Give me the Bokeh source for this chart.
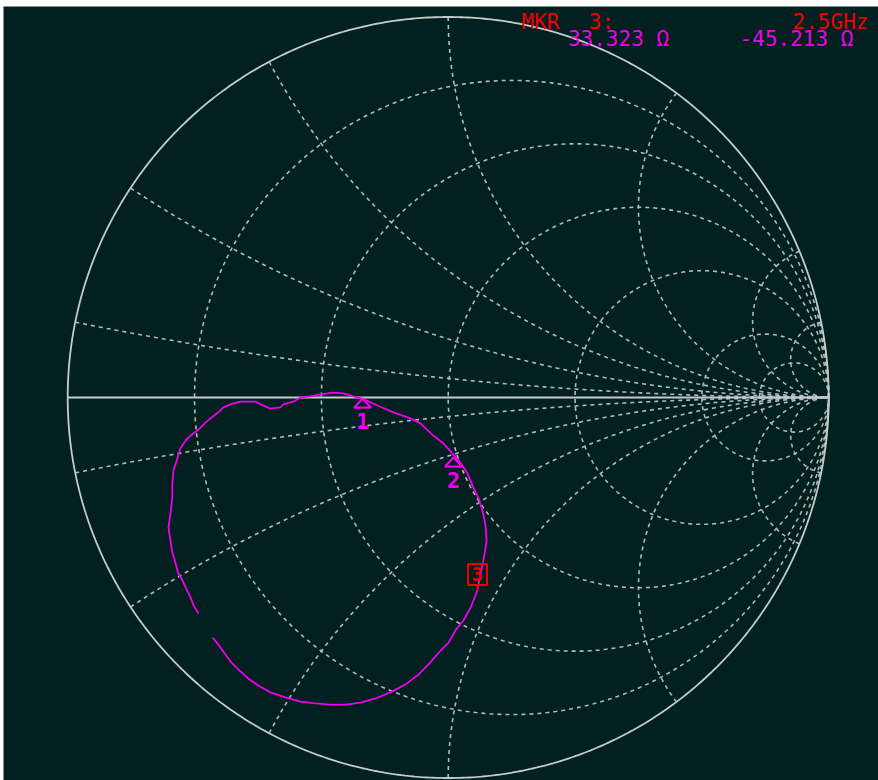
import numpy as np
from bokeh.plotting import figure
from bokeh.models import Range1d
from bokeh.embed import file_html
from bokeh.resources import INLINE
from bokeh.core.properties import value

# ---------------- data ----------------
R_CIRCLES = [0.2, 0.5, 1.0, 2.0, 5.0, 10.0]          # constant-resistance circles
X_ARCS = [0.1, 0.3, 0.6, 1.0, 2.0, 5.0, 10.0]        # constant-reactance arcs (+/-)

# measured reflection coefficient trace (real / imaginary part of Gamma)
TRACE_RE = [-0.656, -0.669, -0.677, -0.690, -0.698, -0.709, -0.717, -0.725, -0.730, -0.735,
            -0.730, -0.725, -0.725, -0.722, -0.711, -0.704, -0.690, -0.677, -0.659, -0.638,
            -0.625, -0.604, -0.591, -0.567, -0.546, -0.506, -0.493, -0.475, -0.467, -0.441,
            -0.433, -0.407, -0.388, -0.362, -0.336, -0.304, -0.275, -0.249, -0.225, -0.186,
            -0.144, -0.099, -0.073, -0.039, -0.012, 0.011, 0.032, 0.051, 0.066, 0.080,
            0.090, 0.098, 0.101, 0.095, 0.088, 0.082, 0.077, 0.059, 0.040, 0.019,
            0.001, -0.020, -0.047, -0.078, -0.112, -0.152, -0.191, -0.230, -0.270, -0.309,
            -0.349, -0.388, -0.428, -0.467, -0.499, -0.525, -0.551, -0.572, -0.593, -0.606,
            -0.619]
TRACE_IM = [-0.568, -0.547, -0.526, -0.499, -0.481, -0.463, -0.434, -0.407, -0.376, -0.342,
            -0.305, -0.263, -0.226, -0.192, -0.158, -0.134, -0.113, -0.100, -0.087, -0.066,
            -0.055, -0.039, -0.026, -0.016, -0.011, -0.011, -0.018, -0.026, -0.029, -0.026,
            -0.018, -0.011, 0.000, 0.003, 0.008, 0.013, 0.011, 0.003, -0.003, -0.021,
            -0.039, -0.055, -0.068, -0.100, -0.121, -0.147, -0.171, -0.200, -0.237, -0.265,
            -0.297, -0.336, -0.376, -0.415, -0.449, -0.476, -0.507, -0.552, -0.586, -0.612,
            -0.644, -0.665, -0.696, -0.728, -0.754, -0.775, -0.791, -0.802, -0.807, -0.807,
            -0.804, -0.799, -0.788, -0.775, -0.757, -0.739, -0.715, -0.694, -0.665, -0.647,
            -0.631]

MARKER_IDS = ["1", "2", "3"]
MARKER_RE = [-0.225, 0.014, 0.077]
MARKER_IM = [-0.003, -0.158, -0.507]
ACTIVE_MARKER = "3"

READOUT_TITLE = "MKR"
READOUT_NUM = "3:"
READOUT_FREQ = "2.5GHz"
READOUT_R = "33.323 Ω"
READOUT_X = "-45.213 Ω"

# ---------------- style / layout ----------------
BG = "#01201f"
GRID = "#b2bbba"
EDGE = "#c4cccb"
TRACE = "#ee00ee"
RED = "#f00000"
MONO = value("DejaVu Sans Mono")

S = 380.5              # pixels per unit of |Gamma|
CX, CY = 447.7, 397.0  # chart centre in page pixels
W, H = 875, 774
LEFT, TOP = 3, 6


def px(xp):
    return (xp - CX) / S


def py(yp):
    return (CY - yp) / S


p = figure(width=W, height=H, output_backend="svg", toolbar_location=None,
           x_range=Range1d(px(LEFT), px(LEFT + W)), y_range=Range1d(py(TOP + H), py(TOP)),
           x_axis_type=None, y_axis_type=None, min_border=0,
           background_fill_color=BG, border_fill_color=BG, outline_line_color=None,
           margin=(TOP, 0, 0, LEFT))
p.grid.visible = False


def gamma(z):
    return (z - 1) / (z + 1)


# resistance circles
xs, ys = [], []
th = np.linspace(0, 2 * np.pi, 721)
for r in R_CIRCLES:
    c, rad = r / (1 + r), 1 / (1 + r)
    xs.append(list(c + rad * np.cos(th)))
    ys.append(list(rad * np.sin(th)))
# reactance arcs
t = np.tan(np.linspace(0, np.pi / 2 - 1e-4, 700))
for x in X_ARCS:
    for s in (1, -1):
        g = gamma(t + 1j * s * x)
        xs.append(list(g.real))
        ys.append(list(g.imag))
p.multi_line(xs, ys, line_color=GRID, line_width=1.6, line_dash="4 4")

# outer circle and real axis
p.line(list(np.cos(th)), list(np.sin(th)), line_color=EDGE, line_width=1.8)
p.line([-1, 1], [0, 0], line_color=EDGE, line_width=1.8)

# trace
p.line(TRACE_RE, TRACE_IM, line_color=TRACE, line_width=1.8)

# markers
for mid, mx, my in zip(MARKER_IDS, MARKER_RE, MARKER_IM):
    if mid == ACTIVE_MARKER:
        p.segment(mx, my, mx, my + 6 / S, line_color=RED, line_width=2)
        p.rect(mx, my + 16 / S, width=19 / S, height=21 / S, fill_alpha=0,
               line_color=RED, line_width=2)
        p.text([mx], [my + 16 / S], text=[mid], text_color=RED, text_font=MONO,
               text_font_size="19px", text_font_style="bold",
               text_align="center", text_baseline="middle")
    else:
        p.patch([mx - 8.5 / S, mx, mx + 8.5 / S, mx - 8.5 / S],
                [my - 9 / S, my, my - 9 / S, my - 9 / S],
                fill_alpha=0, line_color=TRACE, line_width=2.2)
        p.text([mx], [my], text=[mid], text_color=TRACE, text_font=MONO,
               text_font_size="22px", text_font_style="bold", y_offset=22,
               text_align="center", text_baseline="middle")

# readout header
hdr = dict(text_font=MONO, text_font_size="21px", text_align="center",
           text_baseline="alphabetic")
p.text([px(540)], [py(21)], text=[READOUT_TITLE], text_color=RED, **hdr)
p.text([px(601)], [py(21)], text=[READOUT_NUM], text_color=RED, **hdr)
p.text([px(830)], [py(21)], text=[READOUT_FREQ], text_color=RED, **hdr)
p.text([px(618)], [py(38)], text=[READOUT_R], text_color=TRACE, **hdr)
p.text([px(796)], [py(38)], text=[READOUT_X], text_color=TRACE, **hdr)

open("out.html", "w").write(file_html(p, INLINE))
